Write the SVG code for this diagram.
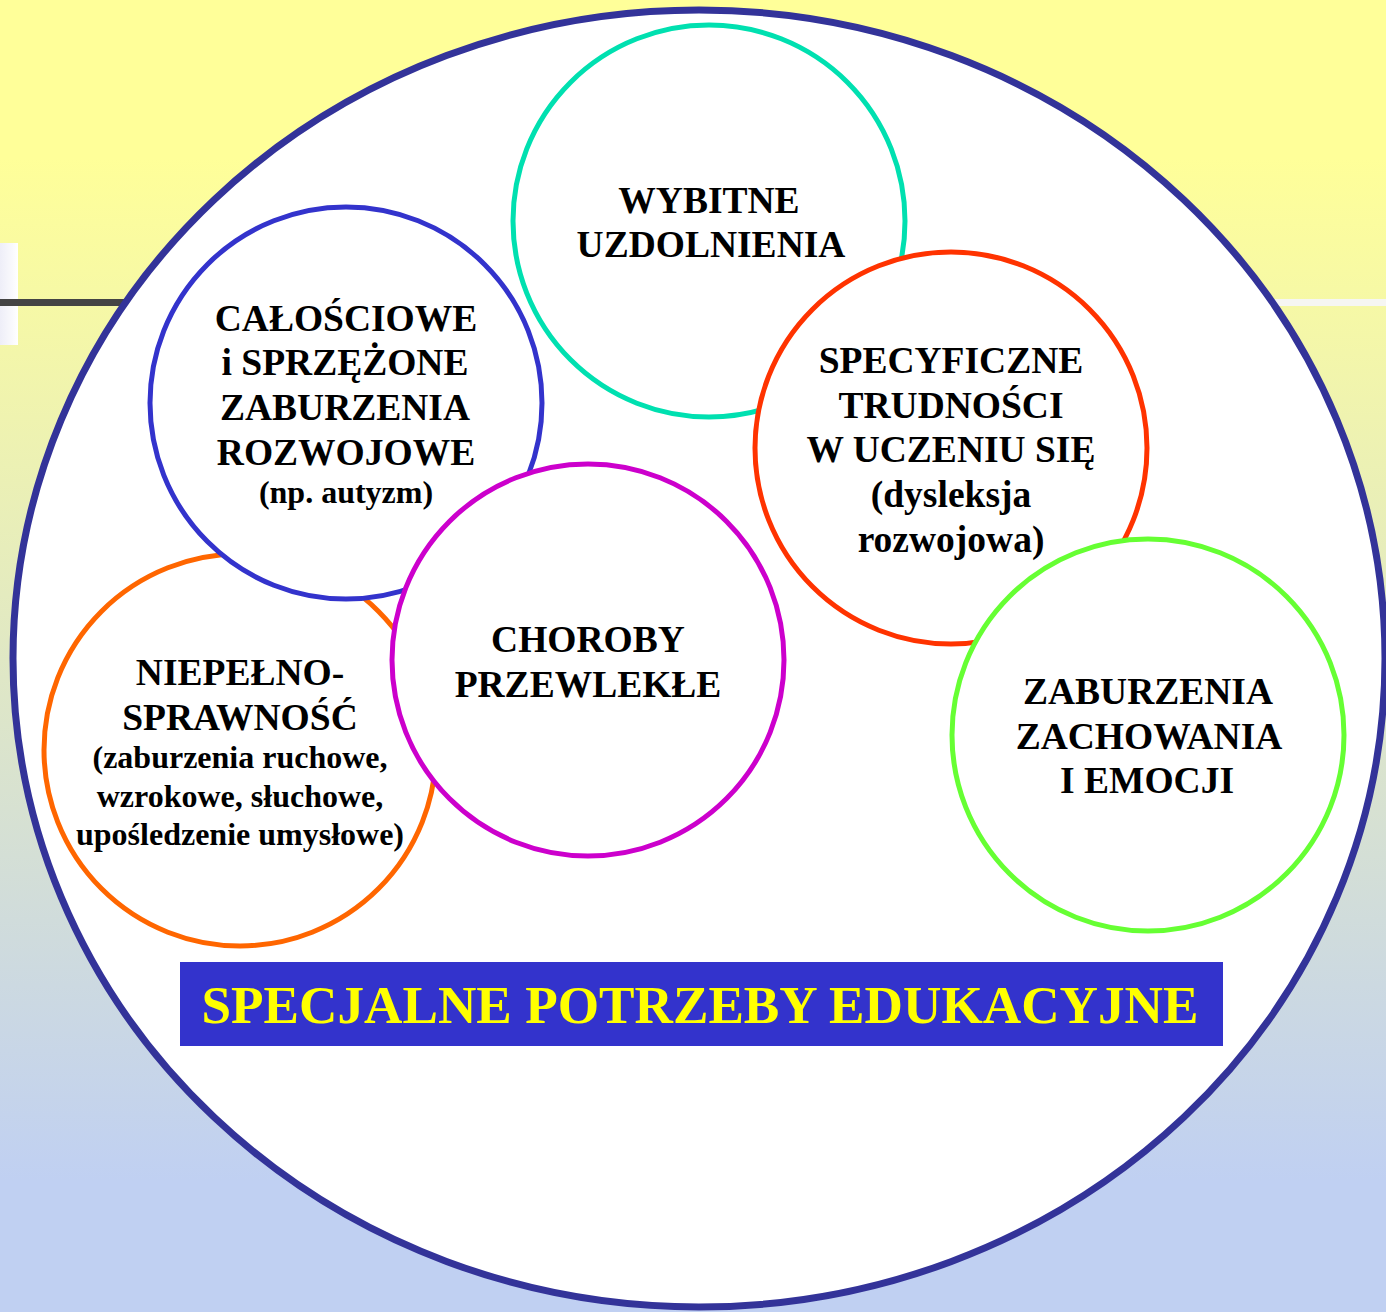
<svg xmlns="http://www.w3.org/2000/svg" width="1386" height="1312" viewBox="0 0 1386 1312">
<defs>
<linearGradient id="bg" x1="0" y1="0" x2="0" y2="1">
<stop offset="0.12" stop-color="#FFFF99"/>
<stop offset="0.9" stop-color="#C0D0F2"/>
</linearGradient>
<linearGradient id="tab" x1="0" y1="0" x2="1" y2="0">
<stop offset="0" stop-color="#EEEEF8"/>
<stop offset="1" stop-color="#FFFFFF"/>
</linearGradient>
</defs>
<style>
text{font-family:"Liberation Serif","Times New Roman",serif;font-weight:bold;fill:#000;text-anchor:middle}
.big{font-size:37.5px}
.small{font-size:32px}
.node circle{fill:#fff;stroke-width:5}
.title{font-size:52px;fill:#FFFF00}
</style>
<rect x="0" y="0" width="1386" height="1312" fill="url(#bg)"/>
<rect x="0" y="243" width="18" height="102" fill="url(#tab)"/>
<rect x="0" y="299" width="130" height="7" fill="#444444"/>
<rect x="1270" y="299" width="116" height="7" fill="#F6F6F2"/>
<g id="outer">
<ellipse cx="699" cy="658.5" rx="686" ry="648.5" fill="#FFFFFF" stroke="#333399" stroke-width="7"/>
</g>
<g id="node-wybitne" class="node">
<circle cx="709" cy="221" r="196" stroke="#00E0B0"/>
<text class="big" x="709" y="213">WYBITNE</text>
<text class="big" x="711" y="257">UZDOLNIENIA</text>
</g>
<g id="node-niepelnosprawnosc" class="node">
<circle cx="240" cy="750" r="196" stroke="#FF6600"/>
<text class="big" x="240" y="685">NIEPEŁNO-</text>
<text class="big" x="240" y="730">SPRAWNOŚĆ</text>
<text class="small" x="240" y="768">(zaburzenia ruchowe,</text>
<text class="small" x="240" y="807">wzrokowe, słuchowe,</text>
<text class="small" x="240" y="845">upośledzenie umysłowe)</text>
</g>
<g id="node-calosciowe" class="node">
<circle cx="346" cy="403" r="196" stroke="#3333CC"/>
<text class="big" x="346" y="331">CAŁOŚCIOWE</text>
<text class="big" x="345" y="375">i SPRZĘŻONE</text>
<text class="big" x="345" y="420">ZABURZENIA</text>
<text class="big" x="346" y="465">ROZWOJOWE</text>
<text class="small" x="346" y="503">(np. autyzm)</text>
</g>
<g id="node-specyficzne" class="node">
<circle cx="951" cy="448" r="196" stroke="#FF3300"/>
<text class="big" x="951" y="373">SPECYFICZNE</text>
<text class="big" x="951" y="418">TRUDNOŚCI</text>
<text class="big" x="951" y="462">W UCZENIU SIĘ</text>
<text class="big" x="951" y="507">(dysleksja</text>
<text class="big" x="951" y="552">rozwojowa)</text>
</g>
<g id="node-zaburzenia" class="node">
<circle cx="1148" cy="735" r="196" stroke="#66FF33"/>
<text class="big" x="1148" y="704">ZABURZENIA</text>
<text class="big" x="1149" y="749">ZACHOWANIA</text>
<text class="big" x="1147" y="793">I EMOCJI</text>
</g>
<g id="node-choroby" class="node">
<circle cx="588" cy="660" r="196" stroke="#CC00CC"/>
<text class="big" x="588" y="652">CHOROBY</text>
<text class="big" x="588" y="697">PRZEWLEKŁE</text>
</g>
<g id="node-title">
<rect x="180" y="962" width="1043" height="84" fill="#3333CC"/>
<text class="title" x="700" y="1023" textLength="997" lengthAdjust="spacingAndGlyphs">SPECJALNE POTRZEBY EDUKACYJNE</text>
</g>
</svg>
